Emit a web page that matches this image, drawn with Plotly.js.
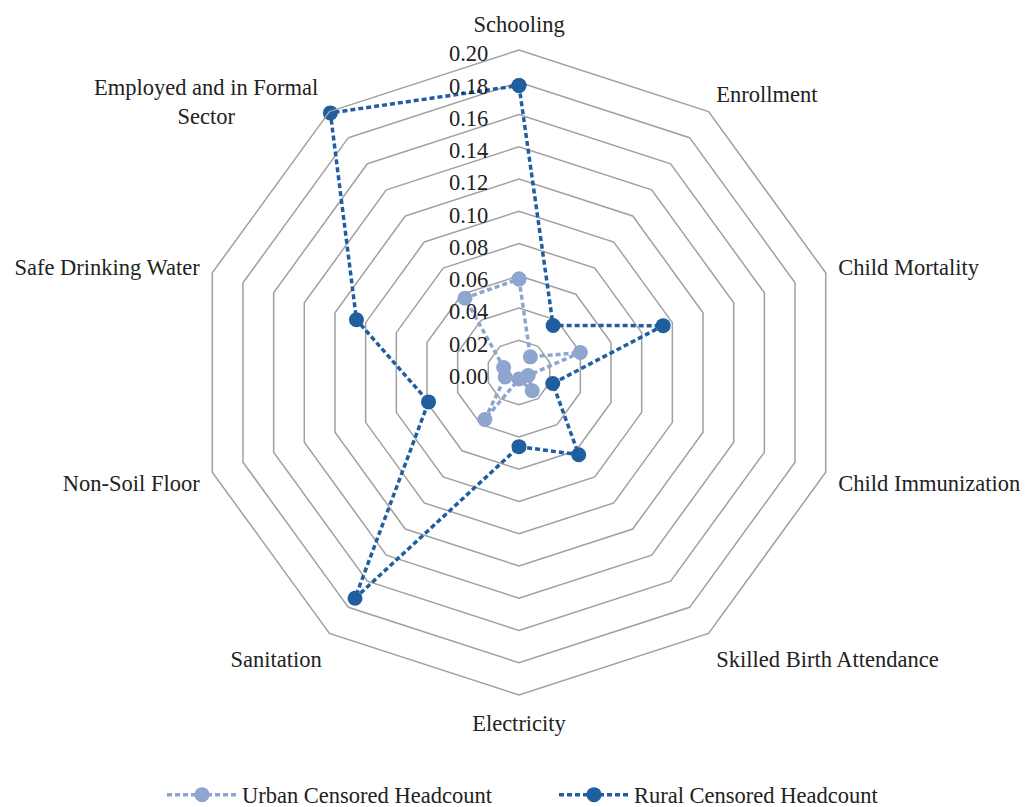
<!DOCTYPE html>
<html>
<head>
<meta charset="utf-8">
<script src="https://cdn.plot.ly/plotly-3.0.1.min.js"></script>
<style>html,body{margin:0;padding:0;background:#fff;}#chart{width:1029px;height:807px;}</style>
</head>
<body>
<div id="chart"></div>
<script>
const categories = ["Schooling", "Enrollment", "Child Mortality", "Child Immunization", "Skilled Birth Attendance", "Electricity", "Sanitation", "Non-Soil Floor", "Safe Drinking Water", "Employed and in Formal Sector"];
const tickLabels = ["Schooling", "Enrollment", "Child Mortality", "Child Immunization", "Skilled Birth Attendance", "Electricity", "Sanitation", "Non-Soil Floor", "Safe Drinking Water", " "];
const urbanValues = [0.058, 0.012, 0.040, 0.006, 0.014, 0.004, 0.036, 0.009, 0.010, 0.057];
const ruralValues = [0.178, 0.036, 0.094, 0.022, 0.063, 0.046, 0.173, 0.059, 0.106, 0.199];
const radialTicks = [0, 0.02, 0.04, 0.06, 0.08, 0.10, 0.12, 0.14, 0.16, 0.18, 0.20];

const closeLoop = a => a.concat([a[0]]);

const urbanColor = "#8EA6CF";
const ruralColor = "#1F5F9F";

const traces = [
  {
    type: "scatterpolar", mode: "lines+markers", name: "Urban Censored Headcount",
    r: closeLoop(urbanValues), theta: closeLoop(categories),
    line: {color: urbanColor, width: 3.5, dash: "5px,3px"},
    marker: {color: urbanColor, size: 15},
    legend: "legend"
  },
  {
    type: "scatterpolar", mode: "lines+markers", name: "Rural Censored Headcount",
    r: closeLoop(ruralValues), theta: closeLoop(categories),
    line: {color: ruralColor, width: 3.5, dash: "5px,3px"},
    marker: {color: ruralColor, size: 15},
    legend: "legend2"
  }
];

const legendCommon = {orientation: "h", yanchor: "middle", y: 1 - 795/807, xanchor: "left",
                      font: {size: 22.5, color: "#222"}, itemwidth: 70, bgcolor: "rgba(0,0,0,0)"};

const layout = {
  width: 1029, height: 807,
  margin: {l: 0, r: 0, t: 0, b: 0, autoexpand: false},
  paper_bgcolor: "#fff",
  font: {family: "Liberation Serif, Times New Roman, serif", size: 22.5, color: "#222"},
  showlegend: true,
  legend: Object.assign({}, legendCommon, {x: 162/1029}),
  legend2: Object.assign({}, legendCommon, {x: 554/1029}),
  annotations: [{
    text: "Employed and in Formal<br>Sector", showarrow: false,
    xref: "paper", yref: "paper", x: 206/1029, y: 1 - 102/807,
    xanchor: "center", yanchor: "middle", align: "center",
    font: {size: 22.5, color: "#222"}
  }],
  polar: {
    domain: {x: [196.5/1029, 841.5/1029], y: [1 - 695/807, 1 - 50/807]},
    bgcolor: "#fff",
    gridshape: "linear",
    angularaxis: {
      direction: "clockwise", rotation: 90,
      tickmode: "array", tickvals: categories, ticktext: tickLabels,
      showgrid: false, showline: true, linecolor: "#A0A0A0", linewidth: 1.5,
      ticks: "outside", ticklen: 8, tickcolor: "rgba(0,0,0,0)",
      tickfont: {size: 22.5, color: "#222"}
    },
    radialaxis: {
      range: [0, 0.2], tickvals: radialTicks, tickformat: ".2f",
      angle: 90, side: "counterclockwise",
      showline: false, gridcolor: "#A0A0A0", gridwidth: 1.5,
      ticks: "outside", ticklen: 10, tickcolor: "rgba(0,0,0,0)",
      tickfont: {size: 22.5, color: "#222"}
    }
  }
};

Plotly.newPlot("chart", traces, layout, {displayModeBar: false, staticPlot: true});
</script>
</body>
</html>
